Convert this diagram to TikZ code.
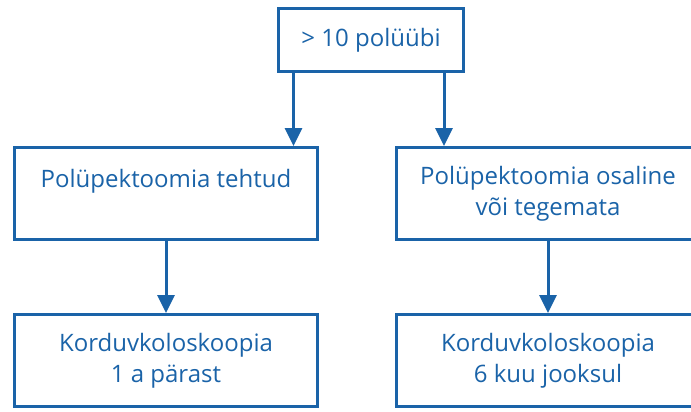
\documentclass[tikz,border=0pt]{standalone}
\usepackage{fontspec}
\setmainfont{Open Sans}
\usetikzlibrary{arrows.meta,positioning}
\definecolor{fblue}{RGB}{26,99,168}
\tikzset{
  box/.style={draw=fblue, line width=3pt, text=fblue, align=center, inner sep=0pt,
    font=\fontsize{24}{31}\selectfont},
  arr/.style={draw=fblue, line width=3pt, -{Triangle[length=18pt,width=17pt]}}
}
\begin{document}
\begin{tikzpicture}[x=1pt,y=-1pt]
\useasboundingbox (0,0) rectangle (691,412);
\clip (0,0) rectangle (691,412);
\node[box, minimum width=185pt, minimum height=63pt] (top) at (371,40) {> 10 polüübi};
\node[box, minimum width=303pt, minimum height=92pt] (m1) at (166,193.5) {Polüpektoomia tehtud\\\mbox{}};
\node[box, minimum width=303pt, minimum height=92pt] (m2) at (548,193.5) {Polüpektoomia osaline\\või tegemata};
\node[box, minimum width=303pt, minimum height=92pt] (b1) at (166,360.5) {Korduvkoloskoopia\\1 a pärast};
\node[box, minimum width=303pt, minimum height=92pt] (b2) at (548,360.5) {Korduvkoloskoopia\\6 kuu jooksul};
\coordinate (s1) at ([xshift=16.5pt]top.south west);
\coordinate (s2) at ([xshift=-21pt]top.south east);
\draw[arr] (s1) -- (s1 |- m1.north);
\draw[arr] (s2) -- (s2 |- m2.north);
\draw[arr] (m1.south) -- (b1.north);
\draw[arr] (m2.south) -- (b2.north);
\end{tikzpicture}
\end{document}
